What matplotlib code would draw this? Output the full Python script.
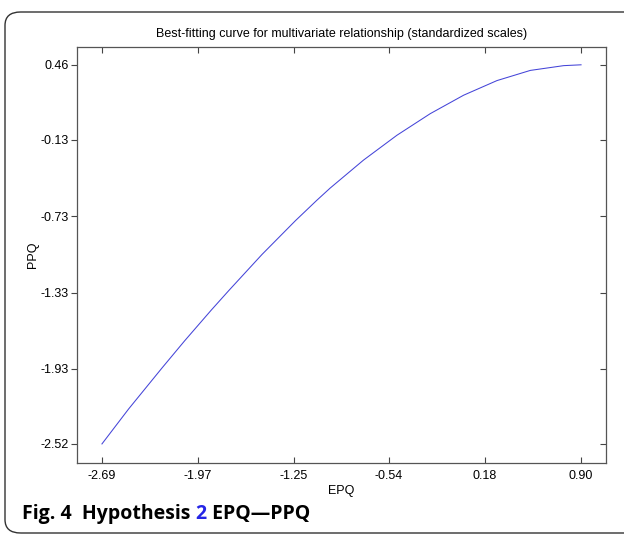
import matplotlib.pyplot as plt
from matplotlib.patches import FancyBboxPatch

# values (standardized scales)
epq = [-2.69, -2.49, -2.24, -2.07, -1.87, -1.74, -1.49, -1.24, -1.08, -0.98,
       -0.73, -0.48, -0.23, 0.02, 0.27, 0.52, 0.77, 0.90]
ppq = [-2.52, -2.245, -1.923, -1.709, -1.467, -1.315, -1.03, -0.765, -0.605, -0.509,
       -0.289, -0.094, 0.076, 0.221, 0.336, 0.416, 0.4535, 0.46]

x_ticks = [-2.69, -1.97, -1.25, -0.54, 0.18, 0.90]
x_labels = ["-2.69", "-1.97", "-1.25", "-0.54", "0.18", "0.90"]
y_ticks = [-2.52, -1.93, -1.33, -0.73, -0.13, 0.46]
y_labels = ["-2.52", "-1.93", "-1.33", "-0.73", "-0.13", "0.46"]

plt.rcParams['font.family'] = ['Liberation Sans', 'DejaVu Sans']

fig = plt.figure(figsize=(6.24, 5.36), dpi=100, facecolor="white")
W, H = 624, 536

# rounded frame around the figure panel
frame = FancyBboxPatch((5 / W, 3 / H), 720 / W, 521 / H,
                       boxstyle="round,pad=0,rounding_size=0.025",
                       transform=fig.transFigure, fill=False,
                       edgecolor="#333333", linewidth=1.0)
fig.patches.append(frame)

ax = fig.add_axes([77 / W, (H - 463) / H, (606 - 77) / W, (463 - 47) / H])
ax.plot(epq, ppq, color="#4444d8", linewidth=0.75)

ax.set_xlim(-2.877, 1.087)
ax.set_ylim(-2.67, 0.60)
ax.set_xticks(x_ticks)
ax.set_xticklabels(x_labels)
ax.set_yticks(y_ticks)
ax.set_yticklabels(y_labels)

ax.tick_params(axis="x", direction="in", top=True, length=4, width=0.8,
               labelsize=9, pad=5, color="#444444")
ax.tick_params(axis="y", direction="out", length=4, width=0.8,
               labelsize=9, pad=2, color="#444444")
sec = ax.secondary_yaxis("right")
sec.set_yticks(y_ticks)
sec.tick_params(direction="in", length=4, width=0.8, labelright=False, color="#444444")
sec.spines["right"].set_visible(False)
for s in ax.spines.values():
    s.set_color("#555555")
    s.set_linewidth(0.9)

ax.set_title("Best-fitting curve for multivariate relationship (standardized scales)",
             fontsize=9, pad=7)
ax.set_xlabel("EPQ", fontsize=9, labelpad=2)
ax.set_ylabel("PPQ", fontsize=9, labelpad=1)

# caption below the chart
cap_font = ['Open Sans', 'DejaVu Sans']
t1 = fig.text(22 / W, (H - 519) / H, "Fig. 4  Hypothesis ", fontsize=14,
              fontweight="bold", family=cap_font)
fig.canvas.draw()
bb = t1.get_window_extent()
t2 = fig.text(bb.x1 / W, (H - 519) / H, "2", fontsize=14, fontweight="bold",
              color="#2525e6", family=cap_font)
fig.canvas.draw()
bb2 = t2.get_window_extent()
fig.text(bb2.x1 / W, (H - 519) / H, " EPQ\u2014PPQ", fontsize=14,
         fontweight="bold", family=cap_font)

plt.savefig("out.png", dpi=100)
